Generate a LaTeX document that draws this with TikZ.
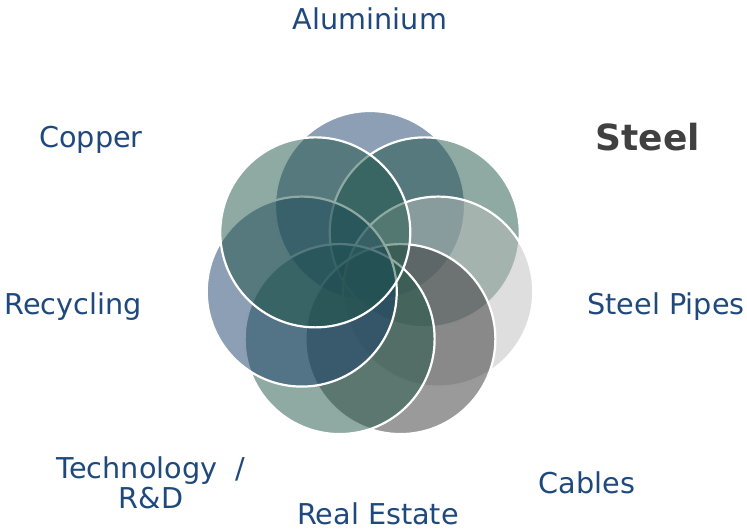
\documentclass[tikz,border=0pt]{standalone}
\usepackage{fontspec}
\setmainfont{DejaVu Sans}
\usepackage{xcolor}
\usepackage{tikz}

\definecolor{ringblue}{HTML}{193F6B}
\definecolor{ringgreen}{HTML}{1F5547}
\definecolor{ringlight}{HTML}{BDBDBD}
\definecolor{ringgray}{HTML}{353535}
\definecolor{labelblue}{HTML}{1F497D}
\definecolor{steelgray}{HTML}{404040}

\tikzset{
  petal/.style={fill=#1, fill opacity=0.5, draw=white, line width=1.1pt},
  sector/.style={text=labelblue, font=\fontsize{14.35pt}{15pt}\selectfont, inner sep=0pt},
}

\begin{document}
\begin{tikzpicture}[x=0.5pt, y=0.5pt]
\useasboundingbox (-370,-255) rectangle (377,276);
\coordinate (hub) at (0,0);

% seven rings round the hub
\foreach \k/\col in {0/ringblue, 1/ringgreen, 2/ringlight, 3/ringgray, 4/ringgreen, 5/ringblue, 6/ringgreen}
  \draw[petal=\col] ({90-\k*360/7}:70) circle[radius=95];

\node[sector, anchor=base] (aluminium) at (0,247){Aluminium};
\node[sector, anchor=base] (copper) at (-279,129){Copper};
\node[sector, anchor=base, text=steelgray, font=\bfseries\fontsize{18pt}{20pt}\selectfont] (steel) at (278,126){Steel};

\node[sector, anchor=base] (pipes) at (296,-38){Steel Pipes};
\node[sector, anchor=base] (recycling) at (-297,-38){Recycling};

\node[sector, anchor=base] (cables) at (217,-217){Cables};
\node[sector, anchor=base] (estate) at (8,-248){Real Estate};
\node[sector, anchor=base, align=center] (tech) at (-219,-232){Technology~~/\\R\&D};
\end{tikzpicture}
\end{document}
